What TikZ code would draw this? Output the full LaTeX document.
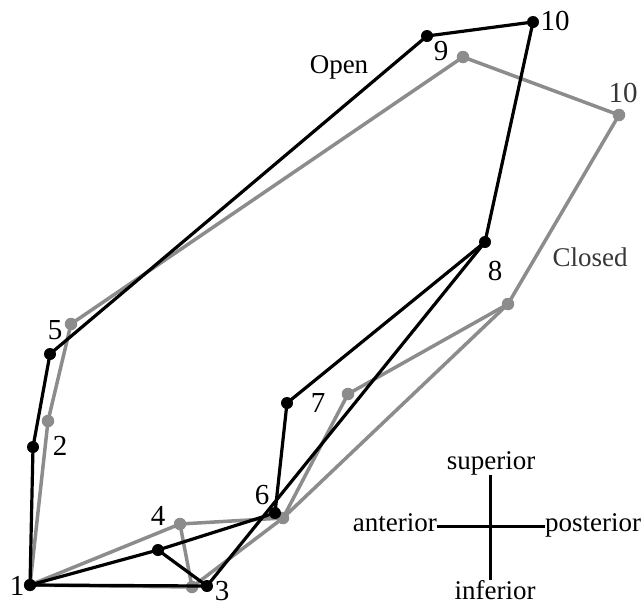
\documentclass[tikz,border=0pt]{standalone}
\usepackage{fontspec}
\setmainfont{Liberation Serif}
\definecolor{closedgray}{RGB}{140,140,140}
\definecolor{closedtext}{RGB}{55,55,55}
\begin{document}
\begin{tikzpicture}[x=1pt,y=-1pt,
  openline/.style={draw=black,line width=3.2pt,line join=round,line cap=round},
  closedline/.style={draw=closedgray,line width=3.5pt,line join=round,line cap=round},
  bdot/.style={circle,fill=black,inner sep=0pt,minimum size=12pt},
  gdot/.style={circle,fill=closedgray,inner sep=0pt,minimum size=12.5pt},
  lbl/.style={inner sep=0pt,font=\fontsize{27}{30}\selectfont},
  num/.style={inner sep=0pt,font=\fontsize{29}{32}\selectfont},
  axisline/.style={draw=black,line width=3pt}]
\useasboundingbox (0,0) rectangle (642,606);
% Open (black) points
\coordinate (b1) at (30,585);
\coordinate (b2) at (33,447);
\coordinate (b5) at (50,354);
\coordinate (b9) at (427,36);
\coordinate (b10) at (533,22);
\coordinate (b8) at (485,242);
\coordinate (b7) at (287,403);
\coordinate (b6) at (275,513);
\coordinate (b4) at (158,550);
\coordinate (b3) at (207,586);
% Closed (gray) points
\coordinate (g1) at (30,585);
\coordinate (g2) at (48,421);
\coordinate (g5) at (71,324);
\coordinate (g9) at (463,57);
\coordinate (g10) at (619,115);
\coordinate (g8) at (508,304);
\coordinate (g7) at (348,394);
\coordinate (g6) at (283,518);
\coordinate (g4) at (180,524);
\coordinate (g3) at (192,587);
% Closed outline
\draw[closedline] (g1) -- (g2) -- (g5) -- (g9) -- (g10) -- (g8) -- (g7) -- (g6) -- (g4) -- (g1);
\draw[closedline] (g4) -- (g3) -- (g1);
\draw[closedline] (g3) -- (g6) -- (g8);
\foreach \p in {g1,g2,g5,g9,g10,g8,g7,g6,g4,g3}
  \node[gdot] (\p d) at (\p) {};
% Open outline
\draw[openline] (b1) -- (b2) -- (b5) -- (b9) -- (b10) -- (b8) -- (b7) -- (b6) -- (b4) -- (b1);
\draw[openline] (b4) -- (b3) -- (b1);
\draw[openline] (b3) -- (b8);
\foreach \p in {b1,b2,b5,b9,b10,b8,b7,b6,b4,b3}
  \node[bdot] (\p d) at (\p) {};
% point labels
\node[num] (l1) at (17,586) {1};
\node[num] (l2) at (60,446) {2};
\node[num] (l3) at (222,591) {3};
\node[num] (l4) at (158,516) {4};
\node[num] (l5) at (55,330) {5};
\node[num] (l6) at (262,495) {6};
\node[num] (l7) at (318,403) {7};
\node[num] (l8) at (495,271) {8};
\node[num] (l9) at (441,51) {9};
\node[num] (l10) at (555,21) {10};
\node[num,text=closedtext] (l10g) at (623,93) {10};
\node[lbl,anchor=base] (open) at (339,73) {Open};
\node[lbl,anchor=base,text=closedtext] (closed) at (590,266) {Closed};
% orientation cross
\coordinate (c) at (490,526);
\node[lbl,anchor=base] (sup) at (491,469) {superior};
\node[lbl,anchor=base] (inf) at (495,599) {inferior};
\node[lbl,anchor=base east] (ant) at (437,531) {anterior};
\node[lbl,anchor=base west] (post) at (545,531) {posterior};
\draw[axisline] (ant.east |- c) -- (post.west |- c);
\draw[axisline] (c |- sup.south) -- (c |- inf.north);
\end{tikzpicture}
\end{document}
